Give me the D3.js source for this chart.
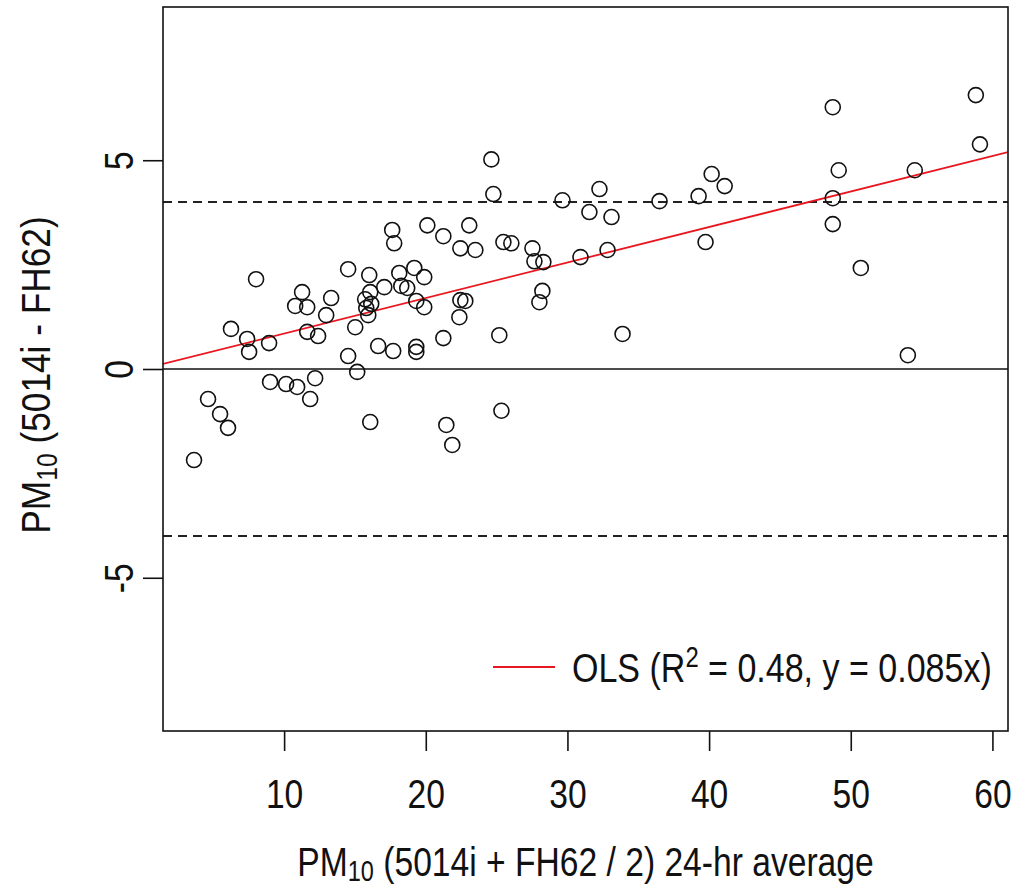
<!DOCTYPE html>
<html>
<head>
<meta charset="utf-8">
<script src="https://cdn.jsdelivr.net/npm/d3@7"></script>
<style>
  body { margin: 0; background: #fff; }
  text { font-family: "Liberation Sans", Arial, sans-serif; fill: #111; }
</style>
</head>
<body>
<script>
// mean of the two monitors (x) and their difference (y)
const avgPM = [3.64, 4.63, 5.48, 6.04, 6.25, 7.39, 7.53, 8.02, 8.94, 9.01,
    10.14, 10.92, 10.78, 11.63, 11.27, 11.63, 11.84, 12.19, 12.4, 12.97,
    13.32, 14.52, 14.52, 15.02, 15.16, 15.72, 16.08, 16.15, 15.8, 15.94,
    16.01, 16.08, 17.07, 16.64, 17.7, 17.63, 17.77, 18.13, 18.27, 18.69,
    19.19, 19.89, 19.33, 19.89, 19.33, 19.33, 20.11, 21.24, 21.24, 21.45,
    21.87, 22.44, 22.37, 22.44, 22.79, 23.07, 23.5, 24.63, 24.77, 25.19,
    25.34, 25.48, 26.04, 27.53, 27.67, 28.3, 28.02, 28.23, 29.65, 30.92,
    31.55, 32.26, 32.83, 33.11, 33.89, 36.5, 39.26, 39.75, 40.18, 41.1,
    48.73, 49.15, 48.73, 48.73, 50.71, 54.03, 54.52, 58.83, 59.12];
const diffPM = [-2.18, -0.72, -1.08, -1.41, 0.96, 0.72, 0.41, 2.15, 0.62, -0.31,
    -0.36, -0.43, 1.51, 1.48, 1.84, 0.89, -0.72, -0.22, 0.79, 1.29,
    1.70, 2.39, 0.31, 1.00, -0.07, 1.67, 1.84, 1.56, 1.46, 1.29,
    2.25, -1.27, 1.96, 0.55, 0.43, 3.33, 3.01, 2.30, 1.99, 1.94,
    2.42, 2.20, 1.63, 1.48, 0.53, 0.41, 3.44, 3.18, 0.74, -1.34,
    -1.82, 2.89, 1.24, 1.65, 1.63, 3.44, 2.85, 5.02, 4.19, 0.81,
    -1.00, 3.04, 3.01, 2.89, 2.58, 2.56, 1.60, 1.87, 4.04, 2.68,
    3.76, 4.31, 2.85, 3.64, 0.84, 4.02, 4.14, 3.04, 4.67, 4.38,
    6.27, 4.76, 4.09, 3.47, 2.42, 0.33, 4.76, 6.56, 5.38];

const xTicks = [10, 20, 30, 40, 50, 60];
const yTicks = [-5, 0, 5];
const limits = [-4, 4];
const slope = 0.085;
const legendLabel = ["OLS (R", "2", " = 0.48, y = 0.085x)"];

const data = avgPM.map(function (d, i) { return { x: d, y: diffPM[i] }; });

const margin = { top: 7, right: 10, bottom: 159, left: 163 },
    width = 1018 - margin.left - margin.right,
    height = 890 - margin.top - margin.bottom;

const fs = 41, narrow = 0.82;

var x = d3.scaleLinear().domain([1.45, 61.1]).range([0, width]);
var y = d3.scaleLinear().domain([-8.67, 8.67]).range([height, 0]);

const svg = d3.select("body")
    .append("svg")
    .attr("width", 1018)
    .attr("height", 890)
    .append("g")
    .attr("transform", "translate(" + margin.left + "," + margin.top + ")");

svg.append("clipPath").attr("id", "clip")
    .append("rect").attr("width", width).attr("height", height);

// reference lines
svg.append("line")
    .attr("x1", 0).attr("x2", width)
    .attr("y1", y(0)).attr("y2", y(0))
    .attr("stroke", "#111").attr("stroke-width", 1.6);

svg.selectAll(".limit")
    .data(limits)
    .enter().append("line")
    .attr("class", "limit")
    .attr("x1", 0).attr("x2", width)
    .attr("y1", d => y(d)).attr("y2", d => y(d))
    .attr("stroke", "#222").attr("stroke-width", 1.8)
    .attr("stroke-dasharray", "9,6");

// OLS line through origin
svg.append("line")
    .attr("clip-path", "url(#clip)")
    .attr("x1", x(x.domain()[0])).attr("y1", y(slope * x.domain()[0]))
    .attr("x2", x(x.domain()[1])).attr("y2", y(slope * x.domain()[1]))
    .attr("stroke", "#e8161e").attr("stroke-width", 1.8);

svg.selectAll(".pt")
    .data(data)
    .enter().append("circle")
    .attr("class", "pt")
    .attr("cx", d => x(d.x))
    .attr("cy", d => y(d.y))
    .attr("r", 7.5)
    .attr("fill", "none")
    .attr("stroke", "#111")
    .attr("stroke-width", 1.6);

// box
svg.append("rect")
    .attr("width", width).attr("height", height)
    .attr("fill", "none").attr("stroke", "#111").attr("stroke-width", 1.6);

// axes
const xAxis = svg.append("g")
    .attr("transform", "translate(0," + height + ")")
    .call(d3.axisBottom(x).tickValues(xTicks).tickSize(20).tickSizeOuter(0));
xAxis.select(".domain").remove();
xAxis.selectAll("line").attr("stroke", "#111").attr("stroke-width", 1.6);
xAxis.selectAll("text")
    .attr("y", null).attr("dy", null)
    .attr("transform", "translate(0,77) scale(" + narrow + ",1)")
    .style("font-size", fs + "px").attr("fill", "#111");

const yAxis = svg.append("g")
    .call(d3.axisLeft(y).tickValues(yTicks).tickSize(20).tickSizeOuter(0));
yAxis.select(".domain").remove();
yAxis.selectAll("line").attr("stroke", "#111").attr("stroke-width", 1.6);
yAxis.selectAll("text")
    .attr("x", null).attr("dy", null)
    .attr("text-anchor", "middle")
    .attr("transform", "translate(-30,0) rotate(-90) scale(" + narrow + ",1)")
    .style("font-size", fs + "px").attr("fill", "#111")
    .text(d => d < 0 ? "-" + Math.abs(d) : d);

// axis titles
const xt = svg.append("text")
    .attr("text-anchor", "middle")
    .attr("transform", "translate(" + (width / 2) + "," + (height + 145) + ") scale(" + narrow + ",1)")
    .style("font-size", fs + "px");
xt.append("tspan").text("PM");
xt.append("tspan").attr("dy", 5).style("font-size", (fs * 0.7) + "px").text("10");
xt.append("tspan").attr("dy", -5).text(" (5014i + FH62 / 2) 24-hr average");

const yt = svg.append("text")
    .attr("text-anchor", "middle")
    .attr("transform", "translate(" + (50 - margin.left) + "," + (height / 2 + 6) + ") rotate(-90) scale(0.86,1)")
    .style("font-size", fs + "px");
yt.append("tspan").text("PM");
yt.append("tspan").attr("dy", 7).style("font-size", (fs * 0.7) + "px").text("10");
yt.append("tspan").attr("dy", -7).text(" (5014i - FH62)");

// legend
const lg = svg.append("g").attr("transform", "translate(" + (493 - margin.left) + "," + (667 - margin.top) + ")");
lg.append("line")
    .attr("x1", 0).attr("x2", 62)
    .attr("stroke", "#e8161e").attr("stroke-width", 1.8);
const lt = lg.append("text")
    .attr("transform", "translate(79,15) scale(0.83,1)")
    .style("font-size", fs + "px");
lt.append("tspan").text(legendLabel[0]);
lt.append("tspan").attr("dy", -15).style("font-size", (fs * 0.7) + "px").text(legendLabel[1]);
lt.append("tspan").attr("dy", 15).text(legendLabel[2]);
</script>
</body>
</html>
